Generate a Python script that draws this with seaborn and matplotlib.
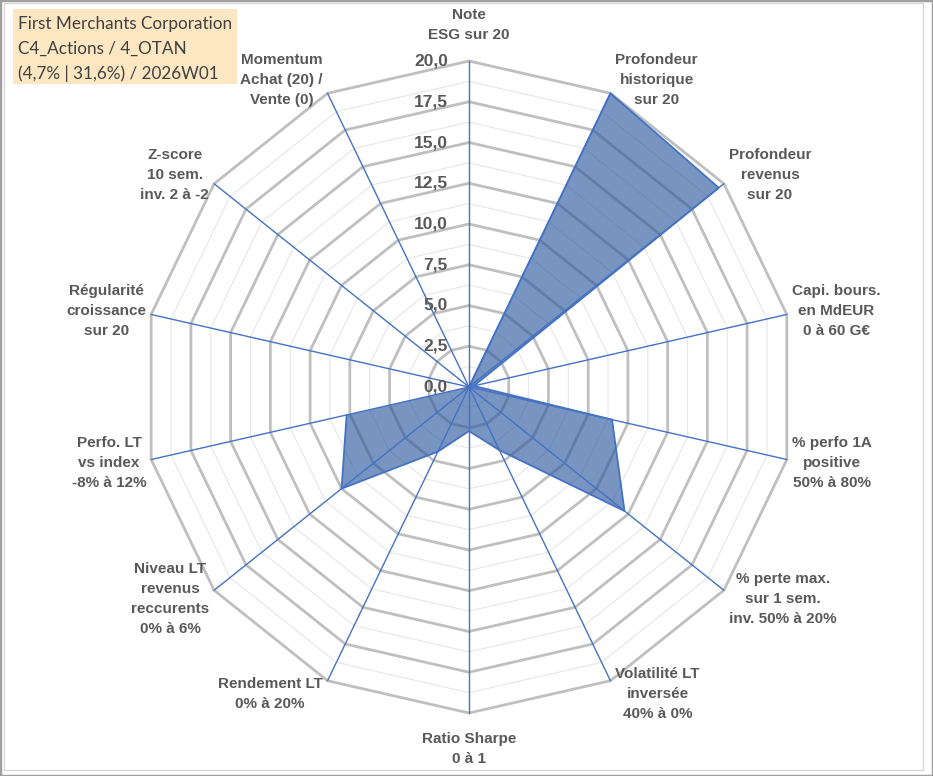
import numpy as np
import matplotlib.pyplot as plt
import matplotlib.patches as patches
import seaborn as sns

# ---- data ----
categories = ["Note\nESG sur 20",
              "Profondeur\nhistorique\nsur 20",
              "Profondeur\nrevenus\nsur 20",
              "Capi. bours.\nen MdEUR\n0 à 60 G€",
              "% perfo 1A\npositive\n50% à 80%",
              "% perte max.\nsur 1 sem.\ninv. 50% à 20%",
              "Volatilité LT\ninversée\n40% à 0%",
              "Ratio Sharpe\n0 à 1",
              "Rendement LT\n0% à 20%",
              "Niveau LT\nrevenus\nreccurents\n0% à 6%",
              "Perfo. LT\nvs index\n-8% à 12%",
              "Régularité\ncroissance\nsur 20",
              "Z-score\n10 sem.\ninv. 2 à -2",
              "Momentum\nAchat (20) /\nVente (0)"]
scores = [0, 20, 19.6, 0.3, 9.0, 12.2, 4.3, 2.7, 4.4, 10.0, 7.7, 0, 0, 0]

major_ticks = [0, 2.5, 5, 7.5, 10, 12.5, 15, 17.5, 20]
tick_labels = ["0,0", "2,5", "5,0", "7,5", "10,0", "12,5", "15,0", "17,5", "20,0"]
minor_ticks = [1.25, 3.75, 6.25, 8.75, 11.25, 13.75, 16.25, 18.75]

title_lines = ["First Merchants Corporation",
               "C4_Actions / 4_OTAN",
               "(4,7% | 31,6%) / 2026W01"]

# ---- style ----
sns.set_theme(style="white")
plt.rcParams['font.family'] = ['Liberation Sans', 'DejaVu Sans']

W, H = 933, 776
cx_px, cy_px = 469, 387       # centre of the radar, pixels from top-left
px = 16.3                     # pixels per score unit

fig = plt.figure(figsize=(W / 100, H / 100), dpi=100)
ax = fig.add_axes([0, 0, 1, 1])
ax.set_xlim(-cx_px / px, (W - cx_px) / px)
ax.set_ylim(-(H - cy_px) / px, cy_px / px)
ax.axis("off")

n = len(categories)
theta = np.arange(n) * 2 * np.pi / n
sx, cy = np.sin(theta), np.cos(theta)
sx_c = np.append(sx, sx[0])
cy_c = np.append(cy, cy[0])

# grid rings (polygon)
for r in minor_ticks:
    ax.plot(r * sx_c, r * cy_c, color="#E6E6E6", lw=0.8, zorder=1)
for r in major_ticks[1:]:
    ax.plot(r * sx_c, r * cy_c, color="#BFBFBF", lw=2.0, zorder=2)

# data polygon
vals = np.array(scores)
vx = np.append(vals * sx, vals[0] * sx[0])
vy = np.append(vals * cy, vals[0] * cy[0])
ax.fill(vx, vy, color="#2E5C9E", alpha=0.65, lw=0, zorder=3)
sns.lineplot(x=vx, y=vy, sort=False, color="#4472C4", lw=1.3, ax=ax, zorder=4)

# spokes
rmax = major_ticks[-1]
for s, c in zip(sx, cy):
    ax.plot([0, rmax * s], [0, rmax * c], color="#4472C4", lw=1.0, zorder=5)

# radial tick labels
for t, lab in zip(major_ticks, tick_labels):
    ax.text(-1.3, t, lab, ha="right", va="center", fontsize=12.5,
            fontweight="bold", color="#595959", zorder=6)

# category labels
for lab, s, c in zip(categories, sx, cy):
    if abs(s) < 0.1:
        ha = "center"
        va = "bottom" if c > 0 else "top"
        x, y = rmax * s, rmax * c + np.sign(c) * 1.15
    else:
        ha = "left" if s > 0 else "right"
        va = "center"
        x, y = rmax * s + np.sign(s) * 0.3, rmax * c + 0.9 * c
    ax.text(x, y, lab, ha=ha, va=va, multialignment="center", fontsize=11,
            fontweight="bold", color="#595959", linespacing=1.55, zorder=6)

# title box
fig.patches.append(patches.Rectangle((13 / W, 1 - 84 / H), 224 / W, 75 / H,
                                     transform=fig.transFigure,
                                     facecolor="#FCE7C2", edgecolor="none", zorder=0))
for i, line in enumerate(title_lines):
    fig.text(18 / W, 1 - (24 + 25 * i) / H, line, ha="left", va="center",
             fontsize=12.3, family="Lato", color="#404040")

# picture frame
fig.patches.append(patches.Rectangle((4 / W, 6 / H), 919 / W, 767 / H,
                                     transform=fig.transFigure, fill=False,
                                     edgecolor="#D9D9D9", lw=1))
fig.patches.append(patches.Rectangle((0, 0), 1, 1, transform=fig.transFigure,
                                     fill=False, edgecolor="#A0A0A0", lw=2.5))

fig.savefig("out.png", dpi=100)
